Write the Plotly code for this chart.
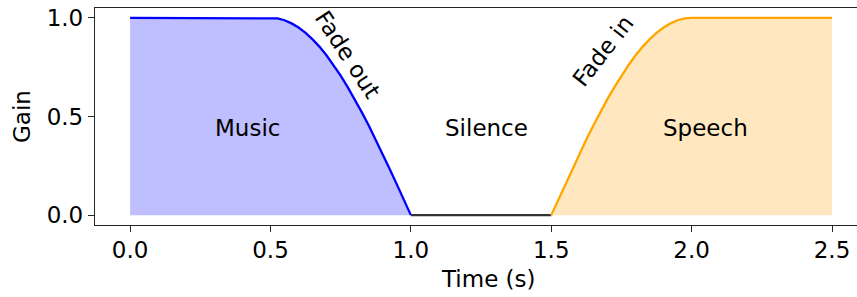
import plotly.graph_objects as go

# Data
music_t = [0.0, 0.5, 0.525, 0.55, 0.575, 0.6, 0.625, 0.65, 0.675, 0.7, 0.725, 0.75,
           0.775, 0.8, 0.825, 0.85, 0.875, 0.9, 0.925, 0.95, 0.975, 1.0]
music_g = [1.0, 1.0, 0.997, 0.988, 0.972, 0.951, 0.924, 0.891, 0.853, 0.809, 0.760, 0.707,
           0.649, 0.588, 0.522, 0.454, 0.383, 0.309, 0.233, 0.156, 0.078, 0.0]
silence_t = [1.0, 1.5]
silence_g = [0.0, 0.0]
speech_t = [1.5, 1.525, 1.55, 1.575, 1.6, 1.625, 1.65, 1.675, 1.7, 1.725, 1.75,
            1.775, 1.8, 1.825, 1.85, 1.875, 1.9, 1.925, 1.95, 1.975, 2.0, 2.5]
speech_g = [0.0, 0.078, 0.156, 0.233, 0.309, 0.383, 0.454, 0.522, 0.588, 0.649, 0.707,
            0.760, 0.809, 0.853, 0.891, 0.924, 0.951, 0.972, 0.988, 0.997, 1.0, 1.0]

region_labels = ["Music", "Silence", "Speech"]
region_x = [0.418, 1.27, 2.05]
region_y = [0.44, 0.44, 0.44]

fade_labels = ["Fade out", "Fade in"]
fade_x = [0.776, 1.684]
fade_y = [0.812, 0.832]
fade_angle = [57, -52]

x_ticks = [0.0, 0.5, 1.0, 1.5, 2.0, 2.5]
y_ticks = [0.0, 0.5, 1.0]

FONT = "DejaVu Sans"
FS = 23
fig = go.Figure()

fig.add_trace(go.Scatter(x=music_t, y=music_g, mode="none", fill="tozeroy",
                         fillcolor="rgb(191,191,255)", showlegend=False, hoverinfo="skip"))
fig.add_trace(go.Scatter(x=speech_t, y=speech_g, mode="none", fill="tozeroy",
                         fillcolor="rgb(255,232,191)", showlegend=False, hoverinfo="skip"))
fig.add_trace(go.Scatter(x=music_t, y=music_g, mode="lines",
                         line=dict(color="blue", width=2.3), showlegend=False))
fig.add_trace(go.Scatter(x=silence_t, y=silence_g, mode="lines",
                         line=dict(color="#333333", width=2.3), showlegend=False))
fig.add_trace(go.Scatter(x=speech_t, y=speech_g, mode="lines",
                         line=dict(color="orange", width=2.3), showlegend=False))

annotations = []
for lab, x, y in zip(region_labels, region_x, region_y):
    annotations.append(dict(x=x, y=y, xref="x", yref="y", text=lab, showarrow=False,
                            font=dict(family=FONT, size=FS, color="black")))
for lab, x, y, a in zip(fade_labels, fade_x, fade_y, fade_angle):
    annotations.append(dict(x=x, y=y, xref="x", yref="y", text=lab, showarrow=False,
                            textangle=a, font=dict(family=FONT, size=FS, color="black")))
# axis titles
annotations.append(dict(x=(488 - 95) / 762, y=(225 - 279) / 217, xref="paper", yref="paper",
                        text="Time (s)", showarrow=False, xanchor="center", yanchor="middle",
                        font=dict(family=FONT, size=FS, color="black")))
annotations.append(dict(x=(22 - 95) / 762, y=(225 - 117) / 217, xref="paper", yref="paper",
                        text="Gain", showarrow=False, textangle=-90, xanchor="center",
                        yanchor="middle", font=dict(family=FONT, size=FS, color="black")))

fig.update_layout(
    width=857, height=297,
    margin=dict(l=95, r=0, t=8, b=72, autoexpand=False),
    plot_bgcolor="white", paper_bgcolor="white",
    font=dict(family=FONT, size=FS, color="black"),
    annotations=annotations,
    xaxis=dict(range=[-0.125, 2.589], tickvals=x_ticks, ticktext=[f"{v:.1f}" for v in x_ticks],
               showgrid=False, zeroline=False, showline=True, linecolor="#262626", linewidth=1.3,
               mirror=True, ticks="outside", ticklen=6, tickwidth=1.3, tickcolor="#262626",
               automargin=False, tickfont=dict(size=FS), ticklabelstandoff=-2),
    yaxis=dict(range=[-0.05, 1.05], tickvals=y_ticks, ticktext=[f"{v:.1f}" for v in y_ticks],
               showgrid=False, zeroline=False, showline=True, linecolor="#262626", linewidth=1.3,
               ticks="outside", ticklen=6, tickwidth=1.3, tickcolor="#262626",
               automargin=False, tickfont=dict(size=FS)),
)

fig.write_html("out.html", config={"displayModeBar": False},
               post_script="document.body.style.margin='0';document.body.style.overflow='hidden';")
